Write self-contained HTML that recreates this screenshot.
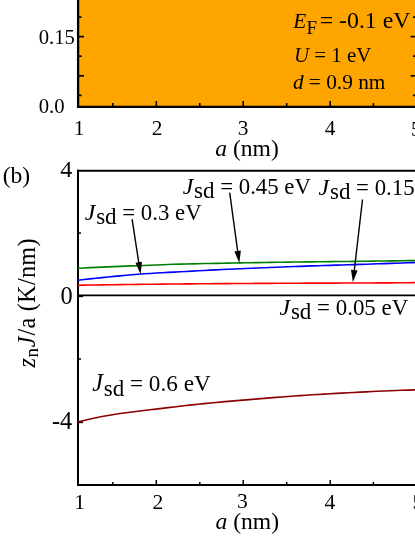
<!DOCTYPE html>
<html><head><meta charset="utf-8"><title>fig</title>
<style>
html,body{margin:0;padding:0;background:#fff;overflow:hidden}
svg{display:block;font-family:"Liberation Serif",serif;fill:#000;will-change:transform}
svg text{mix-blend-mode:multiply}
</style></head><body>
<svg width="415" height="537" viewBox="0 0 415 537">
<rect width="415" height="537" fill="#fff"/>
<rect x="78" y="0" width="340" height="106.7" fill="#ffa500"/>
<line x1="78.1" y1="0" x2="78.1" y2="107.9" stroke="#000" stroke-width="2.3"/>
<line x1="76.95" y1="106.8" x2="416" y2="106.8" stroke="#000" stroke-width="2.2"/>
<line x1="78" y1="17.1" x2="81.6" y2="17.1" stroke="#000" stroke-width="1.7"/>
<line x1="413.0" y1="17.1" x2="416" y2="17.1" stroke="#000" stroke-width="1.7"/>
<line x1="78" y1="36.6" x2="84" y2="36.6" stroke="#000" stroke-width="1.7"/>
<line x1="410.6" y1="36.6" x2="416" y2="36.6" stroke="#000" stroke-width="1.7"/>
<line x1="78" y1="56.2" x2="81.6" y2="56.2" stroke="#000" stroke-width="1.7"/>
<line x1="413.0" y1="56.2" x2="416" y2="56.2" stroke="#000" stroke-width="1.7"/>
<line x1="78" y1="75.8" x2="84" y2="75.8" stroke="#000" stroke-width="1.7"/>
<line x1="410.6" y1="75.8" x2="416" y2="75.8" stroke="#000" stroke-width="1.7"/>
<line x1="78" y1="95.4" x2="81.6" y2="95.4" stroke="#000" stroke-width="1.7"/>
<line x1="413.0" y1="95.4" x2="416" y2="95.4" stroke="#000" stroke-width="1.7"/>
<line x1="112.8" y1="103.10000000000001" x2="112.8" y2="106.7" stroke="#000" stroke-width="1.6"/>
<line x1="156.3" y1="101.10000000000001" x2="156.3" y2="106.7" stroke="#000" stroke-width="1.6"/>
<line x1="199.8" y1="103.10000000000001" x2="199.8" y2="106.7" stroke="#000" stroke-width="1.6"/>
<line x1="243.2" y1="101.10000000000001" x2="243.2" y2="106.7" stroke="#000" stroke-width="1.6"/>
<line x1="286.7" y1="103.10000000000001" x2="286.7" y2="106.7" stroke="#000" stroke-width="1.6"/>
<line x1="330.2" y1="101.10000000000001" x2="330.2" y2="106.7" stroke="#000" stroke-width="1.6"/>
<line x1="373.4" y1="103.10000000000001" x2="373.4" y2="106.7" stroke="#000" stroke-width="1.6"/>
<line x1="78" y1="169.75" x2="78" y2="486" stroke="#000" stroke-width="2.0"/>
<line x1="77" y1="170.7" x2="416" y2="170.7" stroke="#000" stroke-width="1.9"/>
<line x1="77" y1="295.4" x2="416" y2="295.4" stroke="#000" stroke-width="1.9"/>
<line x1="77" y1="485" x2="416" y2="485" stroke="#000" stroke-width="2"/>
<line x1="78" y1="233.1" x2="81" y2="233.1" stroke="#000" stroke-width="1.5"/>
<line x1="78" y1="296.4" x2="83" y2="296.4" stroke="#000" stroke-width="1.5"/>
<line x1="78" y1="359" x2="81" y2="359" stroke="#000" stroke-width="1.5"/>
<line x1="78" y1="422.4" x2="83" y2="422.4" stroke="#000" stroke-width="1.5"/>
<line x1="112.8" y1="482" x2="112.8" y2="485" stroke="#000" stroke-width="1.5"/>
<line x1="156.3" y1="480" x2="156.3" y2="485" stroke="#000" stroke-width="1.5"/>
<line x1="199.8" y1="482" x2="199.8" y2="485" stroke="#000" stroke-width="1.5"/>
<line x1="243.2" y1="480" x2="243.2" y2="485" stroke="#000" stroke-width="1.5"/>
<line x1="286.7" y1="482" x2="286.7" y2="485" stroke="#000" stroke-width="1.5"/>
<line x1="330.2" y1="480" x2="330.2" y2="485" stroke="#000" stroke-width="1.5"/>
<line x1="373.4" y1="482" x2="373.4" y2="485" stroke="#000" stroke-width="1.5"/>
<path d="M78.0,268.20 L84.0,267.93 L90.0,267.67 L96.0,267.40 L102.0,267.15 L108.0,266.89 L114.0,266.64 L120.0,266.40 L126.0,266.16 L132.0,265.92 L138.0,265.68 L144.0,265.44 L150.0,265.20 L156.0,264.97 L162.0,264.74 L168.0,264.52 L174.0,264.32 L180.0,264.14 L186.0,263.97 L192.0,263.83 L198.0,263.69 L204.0,263.56 L210.0,263.44 L216.0,263.33 L222.0,263.22 L228.0,263.11 L234.0,263.00 L240.0,262.90 L246.0,262.80 L252.0,262.69 L258.0,262.59 L264.0,262.50 L270.0,262.40 L276.0,262.31 L282.0,262.22 L288.0,262.14 L294.0,262.05 L300.0,261.97 L306.0,261.90 L312.0,261.83 L318.0,261.76 L324.0,261.70 L330.0,261.63 L336.0,261.57 L342.0,261.51 L348.0,261.44 L354.0,261.37 L360.0,261.30 L366.0,261.23 L372.0,261.15 L378.0,261.07 L384.0,261.00 L390.0,260.92 L396.0,260.84 L402.0,260.75 L408.0,260.67 L414.0,260.59 L420.0,260.50" fill="none" stroke="#008000" stroke-width="1.6"/>
<path d="M78.0,280.20 L84.0,279.52 L90.0,278.86 L96.0,278.22 L102.0,277.60 L108.0,277.00 L114.0,276.41 L120.0,275.83 L126.0,275.26 L132.0,274.73 L138.0,274.25 L144.0,273.82 L150.0,273.43 L156.0,273.07 L162.0,272.73 L168.0,272.40 L174.0,272.09 L180.0,271.77 L186.0,271.45 L192.0,271.12 L198.0,270.80 L204.0,270.48 L210.0,270.16 L216.0,269.85 L222.0,269.55 L228.0,269.26 L234.0,268.97 L240.0,268.70 L246.0,268.44 L252.0,268.18 L258.0,267.93 L264.0,267.68 L270.0,267.45 L276.0,267.21 L282.0,266.98 L288.0,266.76 L294.0,266.54 L300.0,266.33 L306.0,266.12 L312.0,265.92 L318.0,265.73 L324.0,265.54 L330.0,265.35 L336.0,265.16 L342.0,264.97 L348.0,264.78 L354.0,264.59 L360.0,264.40 L366.0,264.20 L372.0,264.01 L378.0,263.81 L384.0,263.61 L390.0,263.41 L396.0,263.21 L402.0,263.01 L408.0,262.81 L414.0,262.60 L420.0,262.40" fill="none" stroke="#0000ff" stroke-width="1.6"/>
<path d="M78.0,285.20 L84.0,285.11 L90.0,285.02 L96.0,284.94 L102.0,284.85 L108.0,284.77 L114.0,284.69 L120.0,284.61 L126.0,284.53 L132.0,284.45 L138.0,284.38 L144.0,284.31 L150.0,284.24 L156.0,284.18 L162.0,284.11 L168.0,284.05 L174.0,284.00 L180.0,283.94 L186.0,283.89 L192.0,283.84 L198.0,283.80 L204.0,283.75 L210.0,283.71 L216.0,283.66 L222.0,283.62 L228.0,283.58 L234.0,283.54 L240.0,283.50 L246.0,283.46 L252.0,283.43 L258.0,283.39 L264.0,283.36 L270.0,283.33 L276.0,283.30 L282.0,283.27 L288.0,283.24 L294.0,283.22 L300.0,283.19 L306.0,283.17 L312.0,283.15 L318.0,283.13 L324.0,283.12 L330.0,283.10 L336.0,283.08 L342.0,283.07 L348.0,283.05 L354.0,283.02 L360.0,283.00 L366.0,282.97 L372.0,282.94 L378.0,282.91 L384.0,282.87 L390.0,282.83 L396.0,282.79 L402.0,282.74 L408.0,282.70 L414.0,282.65 L420.0,282.60" fill="none" stroke="#ff0000" stroke-width="1.6"/>
<path d="M78.0,421.90 L84.0,420.46 L90.0,419.08 L96.0,417.77 L102.0,416.56 L108.0,415.44 L114.0,414.44 L120.0,413.54 L126.0,412.72 L132.0,411.96 L138.0,411.23 L144.0,410.53 L150.0,409.83 L156.0,409.12 L162.0,408.39 L168.0,407.66 L174.0,406.93 L180.0,406.22 L186.0,405.52 L192.0,404.85 L198.0,404.21 L204.0,403.60 L210.0,403.01 L216.0,402.44 L222.0,401.89 L228.0,401.36 L234.0,400.84 L240.0,400.33 L246.0,399.83 L252.0,399.34 L258.0,398.85 L264.0,398.36 L270.0,397.88 L276.0,397.40 L282.0,396.94 L288.0,396.48 L294.0,396.04 L300.0,395.61 L306.0,395.20 L312.0,394.81 L318.0,394.43 L324.0,394.09 L330.0,393.75 L336.0,393.41 L342.0,393.09 L348.0,392.77 L354.0,392.45 L360.0,392.15 L366.0,391.85 L372.0,391.57 L378.0,391.29 L384.0,391.03 L390.0,390.77 L396.0,390.53 L402.0,390.30 L408.0,390.09 L414.0,389.89 L420.0,389.70" fill="none" stroke="#8b0000" stroke-width="1.6"/>
<line x1="132.1" y1="219.2" x2="139.0" y2="264.2" stroke="#000" stroke-width="1.4"/><polygon points="140.6,274.3 135.5,262.7 142.0,261.7" fill="#000"/>
<line x1="229.7" y1="192.7" x2="237.9" y2="252.9" stroke="#000" stroke-width="1.4"/><polygon points="239.3,263.0 234.4,251.4 240.9,250.5" fill="#000"/>
<line x1="362.5" y1="199.5" x2="354.1" y2="272.2" stroke="#000" stroke-width="1.4"/><polygon points="352.9,282.3 351.0,269.8 357.6,270.6" fill="#000"/>
<text x="38.7" y="43.9" font-size="20.7" text-anchor="start" >0.15</text>
<text x="38.7" y="113" font-size="20.7" text-anchor="start" >0.0</text>
<text x="79.0" y="134.9" font-size="21.3" text-anchor="middle" >1</text>
<text x="157.2" y="134.9" font-size="21.3" text-anchor="middle" >2</text>
<text x="243" y="134.9" font-size="21.3" text-anchor="middle" >3</text>
<text x="330" y="134.9" font-size="21.3" text-anchor="middle" >4</text>
<text x="416.3" y="135.7" font-size="21.3" text-anchor="middle" >5</text>
<text x="247" y="155.8" font-size="23.6" text-anchor="middle" ><tspan font-style="italic">a</tspan> (nm)</text>
<text x="293.3" y="27.9" font-size="21.3" text-anchor="start" ><tspan font-style="italic">E</tspan></text>
<text x="306.6" y="34.3" font-size="19" text-anchor="start" >F</text>
<text x="319.7" y="27.8" font-size="23.8" text-anchor="start" >= -0.1 eV</text>
<text x="294.0" y="61.7" font-size="20.9" text-anchor="start" ><tspan font-style="italic">U</tspan> = 1 eV</text>
<text x="292.9" y="88.9" font-size="21.3" text-anchor="start" ><tspan font-style="italic">d</tspan> = 0.9 nm</text>
<text x="2.7" y="183.3" font-size="23.6" text-anchor="start" >(b)</text>
<text x="72.2" y="177.3" font-size="24.0" text-anchor="end" >4</text>
<text x="72.7" y="303.7" font-size="24.4" text-anchor="end" >0</text>
<text x="72.3" y="429.4" font-size="24.4" text-anchor="end" >-4</text>
<text x="79.7" y="508.9" font-size="21.6" text-anchor="middle" >1</text>
<text x="157.9" y="508.9" font-size="21.6" text-anchor="middle" >2</text>
<text x="242.3" y="507.6" font-size="21.6" text-anchor="middle" >3</text>
<text x="330" y="508.6" font-size="21.6" text-anchor="middle" >4</text>
<text x="418" y="508.6" font-size="21.6" text-anchor="middle" >5</text>
<text x="247.3" y="529.3" font-size="23.6" text-anchor="middle" ><tspan font-style="italic">a</tspan> (nm)</text>
<text x="182.7" y="193.6" font-size="22.8" text-anchor="start" ><tspan font-style="italic" font-size="23.8">J</tspan><tspan font-size="23" dy="4.2" dx="0.8">sd</tspan><tspan dy="-4.2"> = 0.45 eV</tspan></text>
<text x="318.6" y="195.1" font-size="22.8" text-anchor="start" ><tspan font-style="italic" font-size="23.8">J</tspan><tspan font-size="23" dy="4.2" dx="0.8">sd</tspan><tspan dy="-4.2"> = 0.15 eV</tspan></text>
<text x="84.8" y="219.7" font-size="22.8" text-anchor="start" ><tspan font-style="italic" font-size="23.8">J</tspan><tspan font-size="23" dy="4.2" dx="0.8">sd</tspan><tspan dy="-4.2"> = 0.3 eV</tspan></text>
<text x="279.5" y="315.0" font-size="22.9" text-anchor="start" ><tspan font-style="italic" font-size="23.9">J</tspan><tspan font-size="23" dy="4.2" dx="0.8">sd</tspan><tspan dy="-4.2"> = 0.05 eV</tspan></text>
<text x="92.2" y="391.3" font-size="23.2" text-anchor="start" ><tspan font-style="italic" font-size="24.2">J</tspan><tspan font-size="23" dy="4.2" dx="0.8">sd</tspan><tspan dy="-4.2"> = 0.6 eV</tspan></text>
<text transform="translate(34.6,367.6) rotate(-90)" font-size="24.3" letter-spacing="0.25"><tspan font-style="italic">z</tspan><tspan font-size="19" dy="2.9" dx="0.5">n</tspan><tspan dy="-2.9" dx="0.5"><tspan font-style="italic">J</tspan></tspan><tspan dx="0.5">/a (K/nm)</tspan></text>
</svg>
</body></html>
